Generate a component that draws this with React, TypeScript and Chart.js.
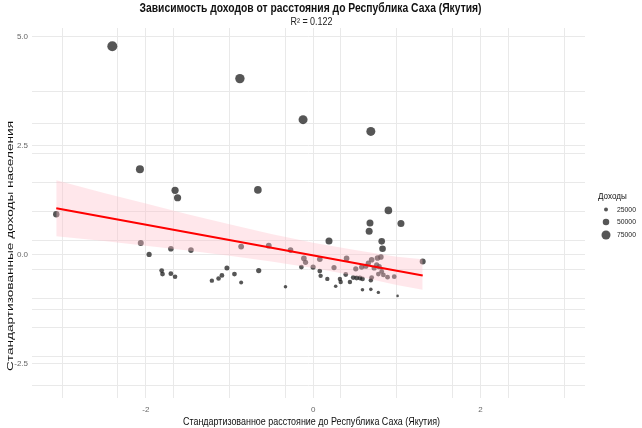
import React, { useEffect, useRef } from "react";
import { Chart, registerables } from "chart.js";

Chart.register(...registerables);

// ---- data ----
const distX = [
  -2.40, -0.875, -0.12, 0.69, -2.07, -1.65, -1.62, -0.66, 0.90, 1.05,
  0.68, 0.67, 0.82, 0.83, 0.19, -3.07, 1.31, -2.06, -1.96, -1.70,
  -1.46, -1.81, -1.80, -1.70, -1.65, -1.21, -1.13, -1.09, -1.03, -0.94,
  -0.86, -0.86, -0.65, -0.53, -0.27, -0.33, -0.11, -0.09, -0.14, 0.00,
  0.08, 0.08, 0.09, 0.17, 0.25, 0.27, 0.32, 0.33, 0.40, 0.39,
  0.44, 0.51, 0.48, 0.52, 0.56, 0.59, 0.58, 0.63, 0.70, 0.70,
  0.69, 0.59, 0.69, 0.78, 1.01, 0.76, 0.79, 0.81, 0.77, 0.82,
  0.78, 0.84, 0.89, 0.97, 0.66, 0.73,
];
const incomeY = [
  4.78, 4.04, 3.10, 2.83, 1.96, 1.48, 1.31, 1.49, 1.02, 0.72,
  0.73, 0.54, 0.31, 0.14, 0.32, 0.93, -0.15, 0.27, 0.01, 0.14,
  0.11, -0.36, -0.44, -0.43, -0.50, -0.59, -0.54, -0.47, -0.30, -0.44,
  -0.63, 0.19, -0.36, 0.21, 0.11, -0.73, -0.08, -0.17, -0.28, -0.28,
  -0.10, -0.37, -0.48, -0.55, -0.29, -0.72, -0.55, -0.62, -0.08, -0.45,
  -0.62, -0.32, -0.52, -0.53, -0.53, -0.55, -0.28, -0.26, -0.11, -0.52,
  -0.58, -0.80, -0.79, -0.86, -0.94, -0.23, -0.27, -0.05, -0.07, -0.38,
  -0.44, -0.46, -0.51, -0.50, -0.19, -0.30,
];
const incomeRub = [
  85000, 79000, 75000, 75000, 65000, 57000, 57000, 61000, 61000, 55000,
  55000, 55000, 51000, 51000, 55000, 49000, 45000, 45000, 37000, 41000,
  41000, 33000, 33000, 33000, 31000, 29000, 31000, 33000, 35000, 33000,
  25000, 43000, 37000, 43000, 41000, 21000, 41000, 37000, 33000, 37000,
  41000, 33000, 29000, 29000, 37000, 21000, 29000, 29000, 41000, 33000,
  29000, 37000, 33000, 33000, 33000, 33000, 37000, 37000, 41000, 33000,
  29000, 21000, 21000, 19000, 11000, 37000, 37000, 41000, 41000, 33000,
  33000, 33000, 33000, 33000, 37000, 37000,
];

const fitX = [-3.07, 1.31];
const fitY = [1.07, -0.47];
const bandX = [-3.07, -2.5, -2, -1.5, -1, -0.5, 0, 0.5, 1, 1.31];
const bandUpper = [1.71, 1.42, 1.18, 0.93, 0.70, 0.48, 0.28, 0.11, -0.04, -0.10];
const bandLower = [0.43, 0.32, 0.21, 0.10, -0.02, -0.15, -0.30, -0.48, -0.69, -0.80];

const xGridValues = [-3, -2.333, -2, -1.667, -1, -0.333, 0, 0.333, 1, 1.667, 2, 2.333, 3];
const xTickValues = [-2, 0, 2];
const xTickLabels = ["-2", "0", "2"];
const yGridValues = [5, 3.75, 3, 2.5, 2.333, 1.667, 1, 0.333, 0, -0.333, -1, -1.25, -1.667, -2.333, -2.5, -3];
const yTickValues = [5, 2.5, 0, -2.5];
const yTickLabels = ["5.0", "2.5", "0.0", "-2.5"];

const legendValues = [25000, 50000, 75000];
const legendLabels = ["25000", "50000", "75000"];

const titleText = "Зависимость доходов от расстояния до Республика Саха (Якутия)";
const subtitleText = "R² = 0.122";
const xTitleText = "Стандартизованное расстояние до Республика Саха (Якутия)";
const yTitleText = "Стандартизованные доходы населения";
const legendTitleText = "Доходы";

const FONT = "'Liberation Sans', Arial, Helvetica, sans-serif";
const radiusFor = (v: number) => 0.75 + v * 0.00005;

function labelFor(values: number[], labels: string[], v: number) {
  for (let i = 0; i < values.length; i++) {
    if (Math.abs(values[i] - v) < 1e-6) return labels[i];
  }
  return "";
}

function drawText(
  ctx: CanvasRenderingContext2D,
  text: string,
  x: number,
  y: number,
  font: string,
  color: string,
  opts: { target?: number; sx?: number; align?: CanvasTextAlign; rot?: number }
) {
  ctx.save();
  ctx.font = font;
  ctx.fillStyle = color;
  ctx.textBaseline = "middle";
  ctx.textAlign = opts.align || "center";
  const w = ctx.measureText(text).width;
  const sx = opts.target ? opts.target / w : opts.sx || 1;
  ctx.translate(x, y);
  if (opts.rot) ctx.rotate(opts.rot);
  ctx.scale(sx, 1);
  ctx.fillText(text, 0, 0);
  ctx.restore();
}

const textPlugin = {
  id: "textPlugin",
  afterDraw(chart: any) {
    const ctx: CanvasRenderingContext2D = chart.ctx;
    const area = chart.chartArea;
    const cx = (area.left + area.right) / 2 + 2;
    drawText(ctx, titleText, cx, 8.5, `bold 12px ${FONT}`, "#111", { target: 342 });
    drawText(ctx, subtitleText, cx + 1, 22, `10px ${FONT}`, "#222", { target: 42 });
    drawText(ctx, xTitleText, cx + 1, 422, `10.5px ${FONT}`, "#111", { target: 257 });
    drawText(ctx, yTitleText, 10, 246, `9.5px ${FONT}`, "#111", { target: 250, rot: -Math.PI / 2 });

    // size legend
    const lx = area.right + 13;
    drawText(ctx, legendTitleText, lx, 196, `9.5px ${FONT}`, "#111", { sx: 0.85, align: "left" });
    const rows = [209.5, 222, 235];
    legendValues.forEach((v, i) => {
      ctx.save();
      ctx.beginPath();
      ctx.arc(area.right + 21, rows[i], radiusFor(v), 0, Math.PI * 2);
      ctx.fillStyle = "rgba(30,30,30,0.75)";
      ctx.fill();
      ctx.restore();
      drawText(ctx, legendLabels[i], area.right + 32, rows[i], `8px ${FONT}`, "#222", { sx: 0.85, align: "left" });
    });
  },
};

export default function App() {
  const ref = useRef<HTMLCanvasElement | null>(null);

  useEffect(() => {
    if (!ref.current) return;
    const points = distX.map((x, i) => ({ x, y: incomeY[i] }));
    const chart = new Chart(ref.current, {
      type: "scatter",
      data: {
        datasets: [
          {
            type: "scatter",
            label: "points",
            data: points,
            pointRadius: incomeRub.map(radiusFor),
            pointHoverRadius: incomeRub.map(radiusFor),
            backgroundColor: "rgba(30,30,30,0.75)",
            borderWidth: 0,
            borderColor: "rgba(0,0,0,0)",
            order: 3,
          } as any,
          {
            type: "line",
            label: "upper",
            data: bandX.map((x, i) => ({ x, y: bandUpper[i] })),
            borderColor: "rgba(0,0,0,0)",
            borderWidth: 0,
            pointRadius: 0,
            fill: "+1",
            backgroundColor: "rgba(255,192,203,0.38)",
            tension: 0,
            order: 2,
          } as any,
          {
            type: "line",
            label: "lower",
            data: bandX.map((x, i) => ({ x, y: bandLower[i] })),
            borderColor: "rgba(0,0,0,0)",
            borderWidth: 0,
            pointRadius: 0,
            fill: false,
            tension: 0,
            order: 2,
          } as any,
          {
            type: "line",
            label: "fit",
            data: fitX.map((x, i) => ({ x, y: fitY[i] })),
            borderColor: "#ff0000",
            borderWidth: 2,
            pointRadius: 0,
            fill: false,
            order: 1,
          } as any,
        ],
      },
      options: {
        animation: false,
        responsive: false,
        devicePixelRatio: 1,
        layout: { padding: { top: 28, right: 57, left: 0, bottom: 0 } },
        plugins: {
          legend: { display: false },
          tooltip: { enabled: false },
          title: { display: false },
        },
        scales: {
          x: {
            type: "linear",
            min: -3.36,
            max: 3.25,
            afterBuildTicks: (s: any) => {
              s.ticks = xGridValues.map((v) => ({ value: v }));
            },
            afterFit: (s: any) => {
              s.height = 30;
            },
            ticks: {
              autoSkip: false,
              maxRotation: 0,
              padding: 7,
              color: "#666",
              font: { family: FONT, size: 8 },
              callback: (v: any) => labelFor(xTickValues, xTickLabels, Number(v)),
            },
            grid: { color: "#e9e9e9", lineWidth: 1, drawTicks: false },
            border: { display: false },
          },
          y: {
            type: "linear",
            min: -3.28,
            max: 5.2,
            afterBuildTicks: (s: any) => {
              s.ticks = yGridValues.map((v) => ({ value: v }));
            },
            afterFit: (s: any) => {
              s.width = 32;
            },
            ticks: {
              autoSkip: false,
              padding: 4,
              color: "#666",
              font: { family: FONT, size: 8 },
              callback: (v: any) => labelFor(yTickValues, yTickLabels, Number(v)),
            },
            grid: { color: "#e9e9e9", lineWidth: 1, drawTicks: false },
            border: { display: false },
          },
        },
      } as any,
      plugins: [textPlugin],
    });
    return () => chart.destroy();
  }, []);

  return (
    <div style={{ position: "absolute", left: 0, top: 0, width: 642, height: 428, background: "#fff" }}>
      <canvas ref={ref} width={642} height={428} style={{ display: "block", width: 642, height: 428 }} />
    </div>
  );
}
